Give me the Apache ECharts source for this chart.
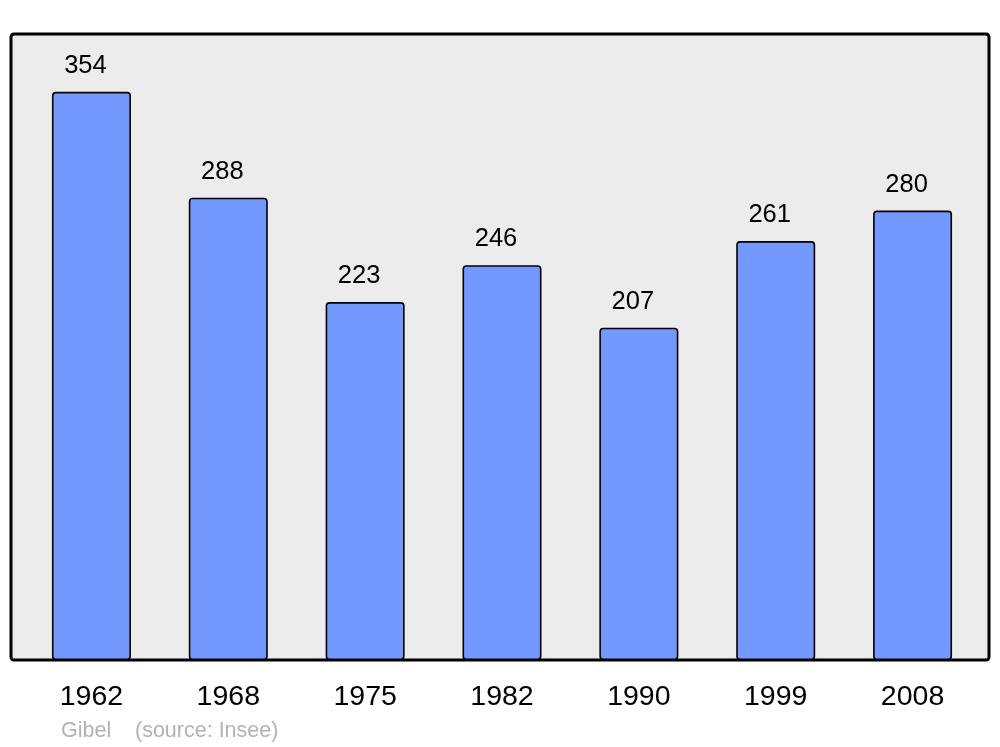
<!DOCTYPE html>
<html>
<head>
<meta charset="utf-8">
<script src="https://cdn.jsdelivr.net/npm/echarts@6/dist/echarts.min.js"></script>
<style>html,body{margin:0;padding:0;background:#fff;}#c{width:1000px;height:747px;}</style>
</head>
<body>
<div id="c"></div>
<script>
const years = ['1962', '1968', '1975', '1982', '1990', '1999', '2008'];
const population = [354, 288, 223, 246, 207, 261, 280];
const author = 'Gibel';
const source = '(source: Insee)';

const chart = echarts.init(document.getElementById('c'), null, {renderer: 'canvas'});
const font = '"Liberation Sans", Arial, sans-serif';
chart.setOption({
  animation: false,
  backgroundColor: '#ffffff',
  grid: {left: 23, right: 19, top: 34, bottom: 87, containLabel: false},
  xAxis: {
    type: 'category',
    data: years,
    axisLine: {show: false},
    axisTick: {show: false},
    axisLabel: {fontFamily: font, fontSize: 28.5, color: '#000', margin: 23}
  },
  yAxis: {
    type: 'value', min: 0, max: 390,
    show: false,
    splitLine: {show: false}
  },
  graphic: [
    {type: 'rect', z: -10, shape: {x: 11, y: 34, width: 978, height: 626, r: 3},
     style: {fill: '#ececec', stroke: '#000', lineWidth: 3}},
    {type: 'text', left: 61, top: 720, style: {text: author, fontFamily: font, fontSize: 21.5, fill: '#b3b3b3'}},
    {type: 'text', left: 135, top: 720, style: {text: source, fontFamily: font, fontSize: 21.5, fill: '#b3b3b3'}}
  ],
  series: [{
    type: 'bar',
    data: population,
    barWidth: 79,
    itemStyle: {color: '#7399ff', borderColor: '#000', borderWidth: 1.6, borderRadius: 3},
    label: {show: true, position: 'top', distance: 13, offset: [-6, 0], fontFamily: font, fontSize: 25.5, color: '#000'}
  }]
});
</script>
</body>
</html>
